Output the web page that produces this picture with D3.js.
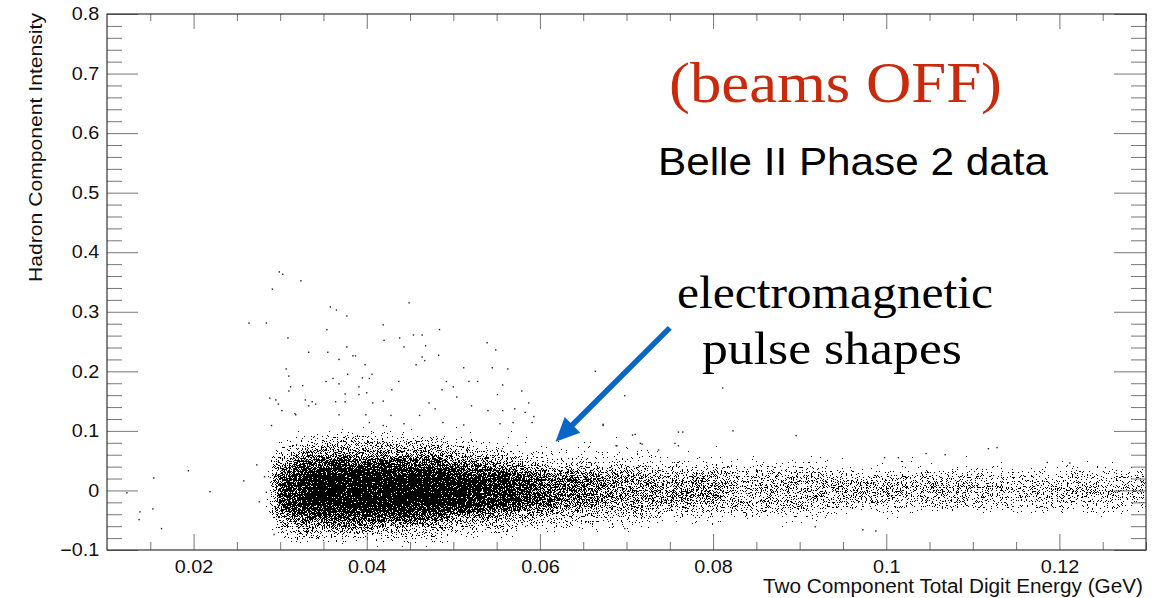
<!DOCTYPE html>
<html>
<head>
<meta charset="utf-8">
<script src="https://cdn.jsdelivr.net/npm/d3@7"></script>
<style>
  body { margin: 0; background: #fff; }
  svg { display: block; }
</style>
</head>
<body>
<div class="canvas"></div>
<script>
// ---- data ----
const xTicks = [0.02, 0.04, 0.06, 0.08, 0.1, 0.12];
const yTicks = [-0.1, 0, 0.1, 0.2, 0.3, 0.4, 0.5, 0.6, 0.7, 0.8];

// dense band: y rows (centres, 0.01 high) and x slices with a density digit per row (0-9)
const rowCentres = [0.125, 0.115, 0.105, 0.095, 0.085, 0.075, 0.065, 0.055, 0.045, 0.035, 0.025, 0.015,
                    0.005, -0.005, -0.015, -0.025, -0.035, -0.045, -0.055, -0.065, -0.075, -0.085, -0.095];
const bandX0 = [0.029, 0.031, 0.033, 0.041, 0.049, 0.053, 0.057, 0.061, 0.067, 0.073, 0.081, 0.093, 0.111];
const bandX1 = [0.031, 0.033, 0.041, 0.049, 0.053, 0.057, 0.061, 0.067, 0.073, 0.081, 0.093, 0.111, 0.131];
const bandDensity = [
    '00012234567777776543211',
    '00112345678888887654321',
    '01123456789999998765321',
    '01123456789999998754321',
    '01112345678999987543210',
    '00111234568888886543210',
    '00111223457777775432100',
    '00011222346666664332100',
    '00011122345555554322100',
    '00001112234555543221000',
    '00000111234444443211000',
    '00000011123444432110000',
    '00000001123344332100000'
];
// share of ink for each density digit
const densityInk = [0, 0.12, 0.2, 0.3, 0.4, 0.5, 0.6, 0.7, 0.8, 0.9];

// single stray hits away from the band
const strayX = [0.0299, 0.0303, 0.0324, 0.0291, 0.0264, 0.0284, 0.0358, 0.0365, 0.0377, 0.0449, 0.0419, 0.0354,
    0.0309, 0.0484, 0.0454, 0.0464, 0.0438, 0.0420, 0.0443, 0.0377, 0.0468, 0.0333, 0.0355, 0.0464, 0.0483,
    0.0539, 0.0549, 0.0368, 0.0384, 0.0387, 0.0457, 0.0467, 0.0398, 0.0512, 0.0545, 0.0563, 0.0307, 0.0310,
    0.0378, 0.0395, 0.0403, 0.0406, 0.0361, 0.0353, 0.0437, 0.0518, 0.0528, 0.0557, 0.0492, 0.0500, 0.0312,
    0.0368, 0.0326, 0.0391, 0.0310, 0.0429, 0.0487, 0.0579, 0.0551, 0.0288, 0.0375, 0.0391, 0.0400, 0.0504,
    0.0295, 0.0298, 0.0329, 0.0337, 0.0364, 0.0375, 0.0407, 0.0419, 0.0472, 0.0521, 0.0587, 0.0302, 0.0317,
    0.0333, 0.0341, 0.0368, 0.0399, 0.0428, 0.0461, 0.0479, 0.0540, 0.0557, 0.0571, 0.0583, 0.0593, 0.0290,
    0.0318, 0.0403, 0.0419, 0.0443, 0.0488, 0.0512, 0.0554, 0.0569, 0.0591,
    0.0154, 0.0194, 0.0123, 0.0138, 0.0153, 0.0137, 0.0163, 0.0219, 0.0258, 0.0273, 0.0284, 0.0276, 0.0293, 0.0282,
    0.0823, 0.0760, 0.0896, 0.0707, 0.0756, 0.0716, 0.1118, 0.1128, 0.1046, 0.0998, 0.1186, 0.0918, 0.0973,
    0.0698, 0.0737, 0.0688, 0.0673, 0.1068, 0.1014, 0.1212, 0.0988, 0.0664, 0.0698, 0.0673, 0.0710, 0.0689,
    0.0718, 0.0765, 0.0760, 0.0811];
const strayY = [0.367, 0.363, 0.352, 0.338, 0.281, 0.281, 0.308, 0.303, 0.293, 0.315, 0.278, 0.270,
    0.256, 0.270, 0.261, 0.261, 0.256, 0.252, 0.241, 0.241, 0.243, 0.232, 0.232, 0.224, 0.227,
    0.248, 0.236, 0.220, 0.226, 0.226, 0.211, 0.218, 0.211, 0.206, 0.206, 0.204, 0.204, 0.192,
    0.195, 0.189, 0.188, 0.195, 0.188, 0.183, 0.183, 0.183, 0.183, 0.177, 0.183, 0.174, 0.174,
    0.179, 0.176, 0.174, 0.167, 0.169, 0.169, 0.167, 0.161, 0.155, 0.162, 0.161, 0.164, 0.157,
    0.152, 0.145, 0.152, 0.149, 0.149, 0.149, 0.147, 0.150, 0.147, 0.142, 0.147, 0.134, 0.129,
    0.142, 0.145, 0.127, 0.127, 0.126, 0.126, 0.137, 0.134, 0.134, 0.137, 0.131, 0.124, 0.109,
    0.127, 0.114, 0.109, 0.112, 0.114, 0.110, 0.112, 0.114, 0.114,
    0.021, 0.033, -0.004, -0.036, -0.031, -0.049, -0.064, -0.002, 0.016, 0.043, -0.003, -0.019, -0.074, 0.023,
    0.100, 0.098, 0.092, 0.093, 0.079, 0.079, 0.070, 0.072, 0.062, 0.055, 0.047, -0.061, -0.066,
    -0.064, 0.068, 0.075, 0.111, 0.060, 0.055, 0.046, -0.068, 0.200, 0.159, 0.109, 0.094, 0.075,
    0.078, 0.098, 0.075, 0.172];

// annotation arrow (data units)
const arrowTail = [0.0750, 0.273];
const arrowTip = [0.0618, 0.0817];

// ---- layout ----
const width = 1166, height = 598;
const plotL = 107, plotR = 1146, plotT = 14, plotB = 550;

const svg = d3.select('.canvas')
    .append('svg')
    .attr('width', width)
    .attr('height', height);

const x = d3.scaleLinear().domain([0.01, 0.13]).range([plotL, plotR]);
const y = d3.scaleLinear().domain([-0.1, 0.8]).range([plotB, plotT]);

// stipple filter: blurred density thresholded against noise -> speckled dots
const defs = svg.append('defs');
defs.append('clipPath').attr('id', 'plotclip')
    .append('rect').attr('x', plotL).attr('y', plotT).attr('width', plotR - plotL).attr('height', plotB - plotT);

const f = defs.append('filter')
    .attr('id', 'stipple')
    .attr('filterUnits', 'userSpaceOnUse')
    .attr('x', plotL).attr('y', plotT).attr('width', plotR - plotL).attr('height', plotB - plotT)
    .attr('color-interpolation-filters', 'sRGB');
f.append('feGaussianBlur').attr('in', 'SourceGraphic').attr('stdDeviation', '7 4').attr('result', 'dens');
f.append('feTurbulence').attr('type', 'fractalNoise').attr('baseFrequency', 1.2)
    .attr('numOctaves', 1).attr('seed', 4).attr('result', 'turb');
f.append('feColorMatrix').attr('in', 'turb').attr('type', 'matrix')
    .attr('values', '1 0 0 0 0  0 0 0 0 0  0 0 0 0 0  0 0 0 0 1').attr('result', 'opaque');
f.append('feComponentTransfer').attr('in', 'opaque').attr('result', 'eq')
    .append('feFuncR').attr('type', 'table').attr('tableValues', '0 0.02 0.08 0.24 0.5 0.76 0.92 0.98 1');
f.append('feColorMatrix').attr('in', 'eq').attr('type', 'matrix')
    .attr('values', '0 0 0 0 0  0 0 0 0 0  0 0 0 0 0  1 0 0 0 0').attr('result', 'nA');
f.append('feComposite').attr('in', 'dens').attr('in2', 'nA').attr('operator', 'arithmetic')
    .attr('k1', 0).attr('k2', 1).attr('k3', -1).attr('k4', 0).attr('result', 'diff');
f.append('feComponentTransfer').attr('in', 'diff')
    .append('feFuncA').attr('type', 'discrete')
    .attr('tableValues', '0 ' + d3.range(19).map(() => '1').join(' '));

// band cells
const cells = [];
bandDensity.forEach((col, i) => {
    col.split('').forEach((c, j) => {
        const d = +c;
        if (d > 0) cells.push({ x0: bandX0[i], x1: bandX1[i], yc: rowCentres[j], d: d });
    });
});

const band = svg.append('g').attr('clip-path', 'url(#plotclip)')
    .append('g').attr('filter', 'url(#stipple)');
band.selectAll('rect')
    .data(cells)
    .enter()
    .append('rect')
    .attr('x', d => x(d.x0))
    .attr('width', d => x(d.x1) - x(d.x0))
    .attr('y', d => y(d.yc + 0.005))
    .attr('height', d => y(d.yc - 0.005) - y(d.yc + 0.005))
    .attr('fill', '#000')
    .attr('fill-opacity', d => densityInk[d.d]);

// stray hits
svg.append('g')
    .selectAll('rect')
    .data(strayX.map((v, i) => [v, strayY[i]]))
    .enter()
    .append('rect')
    .attr('x', d => x(d[0]) - 0.7)
    .attr('y', d => y(d[1]) - 0.7)
    .attr('width', 1.4)
    .attr('height', 1.4)
    .attr('fill', '#222');

// ---- axes, ROOT style: ticks inside on all four sides ----
const xMinor = d3.range(3, 27).map(k => k * 0.005).filter(v => Math.abs(v / 0.02 - Math.round(v / 0.02)) > 1e-6);
const yMinor = d3.range(-5, 41).map(k => k * 0.02).filter(v => Math.abs(v / 0.1 - Math.round(v / 0.1)) > 1e-6);

const tickColor = '#777';
const fmt = d3.format('~g');

function styleAxis(g) {
    g.select('.domain').remove();
    g.selectAll('line').attr('stroke', tickColor);
}

// bottom
svg.append('g').attr('transform', `translate(0,${plotB})`)
    .call(d3.axisBottom(x).tickValues(xTicks).tickSize(-16).tickPadding(10).tickFormat(fmt))
    .call(styleAxis);
svg.append('g').attr('transform', `translate(0,${plotB})`)
    .call(d3.axisBottom(x).tickValues(xMinor).tickSize(-8).tickFormat(''))
    .call(styleAxis);
// top
svg.append('g').attr('transform', `translate(0,${plotT})`)
    .call(d3.axisTop(x).tickValues(xTicks).tickSize(-15).tickFormat(''))
    .call(styleAxis);
svg.append('g').attr('transform', `translate(0,${plotT})`)
    .call(d3.axisTop(x).tickValues(xMinor).tickSize(-7).tickFormat(''))
    .call(styleAxis);
// left
svg.append('g').attr('transform', `translate(${plotL},0)`)
    .call(d3.axisLeft(y).tickValues(yTicks).tickSize(-31).tickPadding(7).tickFormat(fmt))
    .call(styleAxis);
svg.append('g').attr('transform', `translate(${plotL},0)`)
    .call(d3.axisLeft(y).tickValues(yMinor).tickSize(-15).tickFormat(''))
    .call(styleAxis);
// right
svg.append('g').attr('transform', `translate(${plotR},0)`)
    .call(d3.axisRight(y).tickValues(yTicks).tickSize(-32).tickFormat(''))
    .call(styleAxis);
svg.append('g').attr('transform', `translate(${plotR},0)`)
    .call(d3.axisRight(y).tickValues(yMinor).tickSize(-15).tickFormat(''))
    .call(styleAxis);

svg.selectAll('.tick text')
    .attr('font-family', '"Liberation Sans", Arial, sans-serif')
    .attr('font-size', 18)
    .attr('fill', '#111')
    .attr('transform', 'scale(1.1,1)');

// frame
svg.append('rect')
    .attr('x', plotL).attr('y', plotT)
    .attr('width', plotR - plotL).attr('height', plotB - plotT)
    .attr('fill', 'none')
    .attr('stroke', '#333')
    .attr('stroke-width', 1.2);

// axis titles
svg.append('text')
    .attr('x', 1143).attr('y', 593)
    .attr('text-anchor', 'end')
    .attr('font-family', '"Liberation Sans", Arial, sans-serif')
    .attr('font-size', 19.5)
    .attr('textLength', 380)
    .attr('lengthAdjust', 'spacingAndGlyphs')
    .attr('fill', '#111')
    .text('Two Component Total Digit Energy (GeV)');

svg.append('text')
    .attr('transform', 'translate(41.5,13) rotate(-90)')
    .attr('text-anchor', 'end')
    .attr('font-family', '"Liberation Sans", Arial, sans-serif')
    .attr('font-size', 19)
    .attr('textLength', 269)
    .attr('lengthAdjust', 'spacingAndGlyphs')
    .attr('fill', '#111')
    .text('Hadron Component Intensity');

// annotations
svg.append('text')
    .attr('x', 669).attr('y', 102)
    .attr('font-family', '"Liberation Serif", "Times New Roman", serif')
    .attr('font-size', 57)
    .attr('textLength', 333)
    .attr('lengthAdjust', 'spacingAndGlyphs')
    .attr('fill', '#c92a0c')
    .text('(beams OFF)');

svg.append('text')
    .attr('x', 658).attr('y', 175)
    .attr('font-family', '"Liberation Sans", Arial, sans-serif')
    .attr('font-size', 39)
    .attr('textLength', 390)
    .attr('lengthAdjust', 'spacingAndGlyphs')
    .attr('fill', '#000')
    .text('Belle II Phase 2 data');

svg.append('text')
    .attr('x', 677).attr('y', 308)
    .attr('font-family', '"Liberation Serif", "Times New Roman", serif')
    .attr('font-size', 46)
    .attr('textLength', 316)
    .attr('lengthAdjust', 'spacingAndGlyphs')
    .attr('fill', '#000')
    .text('electromagnetic');

svg.append('text')
    .attr('x', 702).attr('y', 364)
    .attr('font-family', '"Liberation Serif", "Times New Roman", serif')
    .attr('font-size', 46)
    .attr('textLength', 260)
    .attr('lengthAdjust', 'spacingAndGlyphs')
    .attr('fill', '#000')
    .text('pulse shapes');

// arrow
const ax0 = x(arrowTail[0]), ay0 = y(arrowTail[1]);
const ax1 = x(arrowTip[0]), ay1 = y(arrowTip[1]);
const len = Math.hypot(ax1 - ax0, ay1 - ay0);
const ux = (ax1 - ax0) / len, uy = (ay1 - ay0) / len;
const headLen = 24, headHalf = 11;
const bx = ax1 - ux * headLen, by = ay1 - uy * headLen;
const arrowColor = '#0a66c4';

svg.append('line')
    .attr('x1', ax0).attr('y1', ay0)
    .attr('x2', bx + ux * 2).attr('y2', by + uy * 2)
    .attr('stroke', arrowColor)
    .attr('stroke-width', 5.5);

svg.append('path')
    .attr('d', `M${ax1},${ay1} L${bx - uy * headHalf},${by + ux * headHalf} L${bx + uy * headHalf},${by - ux * headHalf} Z`)
    .attr('fill', arrowColor);
</script>
</body>
</html>
